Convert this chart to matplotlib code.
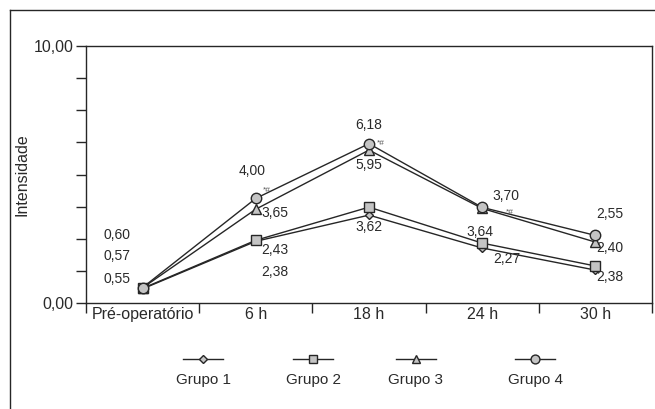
import matplotlib
matplotlib.use("Agg")
import matplotlib.pyplot as plt
from matplotlib.lines import Line2D

plt.rcParams['font.family'] = ['Liberation Sans', 'DejaVu Sans']

categories = ["Pré-operatório", "6 h", "18 h", "24 h", "30 h"]
groups = ["Grupo 1", "Grupo 2", "Grupo 3", "Grupo 4"]
grupo1 = [0.55, 2.40, 3.42, 2.14, 1.28]
grupo2 = [0.57, 2.44, 3.73, 2.33, 1.44]
grupo3 = [0.59, 3.65, 5.95, 3.68, 2.37]
grupo4 = [0.60, 4.07, 6.20, 3.72, 2.63]
series = [grupo1, grupo2, grupo3, grupo4]
markers = ["D", "s", "^", "o"]
msizes = [4.5, 7, 6.5, 7.5]

# value labels: (text, x, y)
label_texts = ["0,60", "0,57", "0,55", "4,00", "3,65", "2,43", "2,38",
               "6,18", "5,95", "3,62", "3,70", "3,64", "2,27",
               "2,55", "2,40", "2,38"]
label_x = [-0.23, -0.23, -0.23, 0.97, 1.17, 1.17, 1.17,
           2.0, 2.0, 2.0, 3.21, 2.98, 3.22,
           4.13, 4.13, 4.13]
label_y = [2.63, 1.82, 0.92, 5.12, 3.52, 2.08, 1.20,
           6.91, 5.36, 2.94, 4.15, 2.75, 1.73,
           3.48, 2.13, 1.00]
sig_x = [1.1, 2.1, 3.24]
sig_y = [4.38, 6.21, 3.53]

LC = "#262626"
FC = "#c4c4c4"
TC = "#2a2a2a"

fig = plt.figure(figsize=(6.55, 4.09), dpi=100)
ax = fig.add_axes([86/655, 1-303/409, (652-86)/655, (303-46)/409])

x = list(range(len(categories)))
for s, m, ms in zip(series, markers, msizes):
    ax.plot(x, s, color=LC, lw=1.0, marker=m, ms=ms, mfc=FC, mec=LC, mew=1.0, zorder=3)

for t, lx, ly in zip(label_texts, label_x, label_y):
    ax.text(lx, ly, t, ha="center", va="center", fontsize=10, color=TC)
for sx, sy in zip(sig_x, sig_y):
    ax.text(sx, sy, "*#", ha="center", va="center", fontsize=6, color="#555555")

ax.set_xlim(-0.5, 4.5)
ax.set_ylim(0, 10)
ax.set_xticks([i + 0.5 for i in range(-1, 5)])
ax.set_xticklabels([])
ax.set_xticks(x, minor=True)
ax.set_xticklabels(categories, minor=True, fontsize=11.5, color=TC)
ax.tick_params(axis="x", which="minor", length=0, pad=3)
ax.tick_params(axis="x", which="major", length=7, width=1, color=LC, direction="out")
ax.set_yticks([i * 1.25 for i in range(9)])
ax.set_yticklabels(["0,00"] + [""] * 7 + ["10,00"], fontsize=11.5, color=TC)
ax.tick_params(axis="y", length=7, width=1, color=LC, direction="out", pad=2)
ax.set_ylabel("Intensidade", fontsize=11.5, color=TC)
ax.yaxis.set_label_coords(-0.099, 0.5)
for sp in ax.spines.values():
    sp.set_color(LC)
    sp.set_linewidth(1.0)

# outer frame (left and top)
fig.add_artist(Line2D([10/655, 10/655], [0, 1-10/409], color=LC, lw=1.0, transform=fig.transFigure))
fig.add_artist(Line2D([10/655, 1], [1-10/409, 1-10/409], color=LC, lw=1.0, transform=fig.transFigure))

# legend
leg_cx = [203, 313, 416, 535]
for g, m, ms, cx in zip(groups, markers, msizes, leg_cx):
    fy = 1 - 359/409
    fig.add_artist(Line2D([(cx-20)/655, (cx+20)/655], [fy, fy], color=LC, lw=1.0,
                          transform=fig.transFigure))
    fig.add_artist(Line2D([cx/655], [fy], color=LC, lw=0, marker=m, ms=ms*0.85,
                          mfc=FC, mec=LC, mew=1.0, transform=fig.transFigure))
    fig.text(cx/655, 1-380/409, g, ha="center", va="center", fontsize=11, color=TC)

fig.savefig("out.png", dpi=100)
